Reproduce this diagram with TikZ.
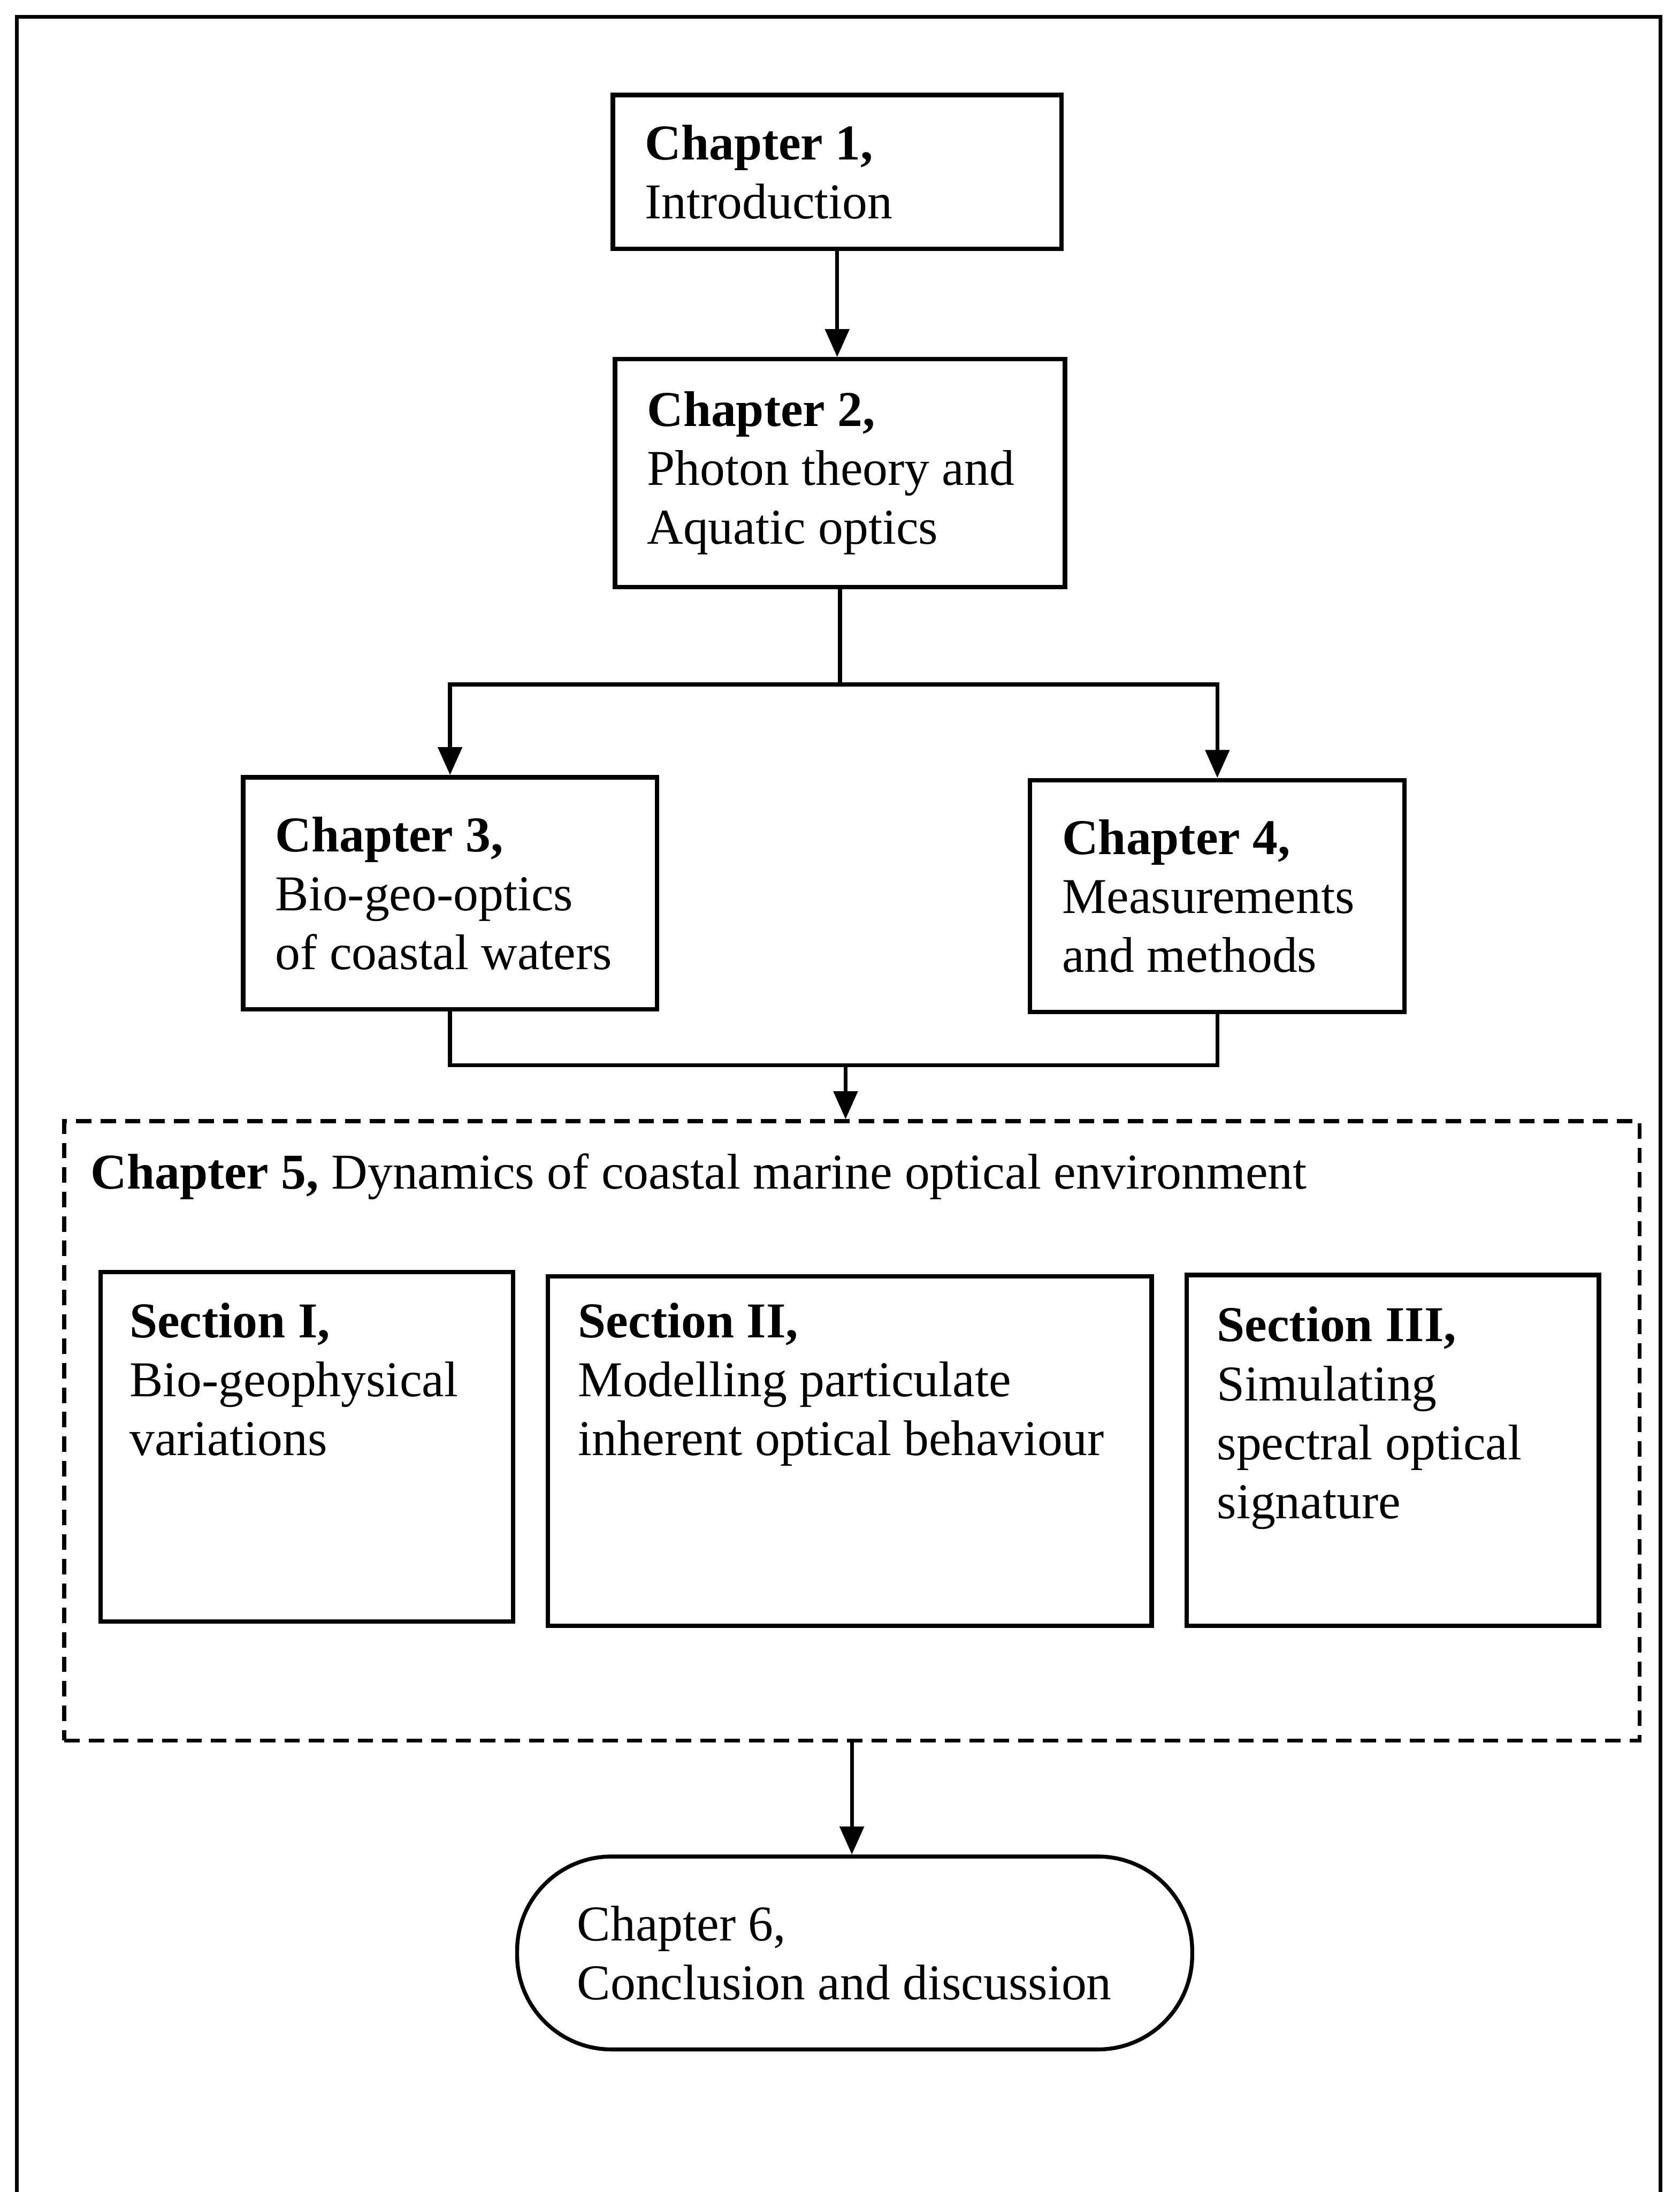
\documentclass[tikz,border=0pt]{standalone}
\usepackage{fontspec}
\setmainfont{Liberation Serif}
\usetikzlibrary{arrows.meta,positioning}
\tikzstyle{chapbox} = [rectangle,draw=black,line width=1.8pt,align=flush left,inner xsep=0.46cm,font=\fontsize{20.4pt}{24pt}\selectfont]
\tikzstyle{secbox} = [rectangle,draw=black,line width=1.8pt,minimum width=5.9cm,minimum height=5cm]
\tikzstyle{sectext} = [align=left,anchor=north west,inner sep=0pt,font=\fontsize{20.4pt}{24pt}\selectfont]
\tikzstyle{dashbox} = [rectangle,draw=black,line width=1.6pt,dash pattern=on 0.22cm off 0.13cm,minimum width=22.54cm,minimum height=8.86cm]
\tikzstyle{endbox} = [rectangle,rounded corners=1.35cm,draw=black,line width=1.6pt,align=flush left,inner xsep=0.86cm,minimum height=2.76cm,font=\fontsize{20.4pt}{24pt}\selectfont]
\tikzstyle{arrow} = [line width=1.6pt,-{Triangle[length=0.4cm,width=0.34cm]}]
\tikzstyle{link} = [line width=1.6pt]

\begin{document}
\begin{tikzpicture}
\useasboundingbox (0,0) rectangle (24.04,-31.36);
% outer frame, open at the bottom
\draw [line width=1.6pt] (0.24,-31.36) -- (0.24,-0.24) -- (23.76,-0.24) -- (23.76,-31.36);

\node (ch1) [chapbox,text width=5.5cm,minimum height=2.2cm] at (11.98,-2.46) {\textbf{Chapter 1,}\\Introduction};
\node (ch2) [chapbox,text width=5.52cm,minimum height=3.26cm] at (12.02,-6.77) {\textbf{Chapter 2,}\\Photon theory and\\Aquatic optics};
\node (ch3) [chapbox,text width=5.0cm,minimum height=3.32cm] at (6.44,-12.78) {\textbf{Chapter 3,}\\Bio-geo-optics\\of coastal waters};
\node (ch4) [chapbox,text width=4.44cm,minimum height=3.32cm] at (17.42,-12.82) {\textbf{Chapter 4,}\\Measurements\\and methods};

\node (ch5) [dashbox] at (12.19,-20.47) {};
\node (ch5t) [anchor=west,inner sep=0pt,font=\fontsize{20.4pt}{24pt}\selectfont] at ([shift={(0.4,-0.82)}]ch5.north west) {\textbf{Chapter 5,} Dynamics of coastal marine optical environment};

\node (sec1) [secbox] at (4.39,-20.70) {};
\node (sec2) [secbox,minimum width=8.64cm] at (12.16,-20.76) {};
\node (sec3) [secbox,minimum height=5.02cm] at (19.93,-20.75) {};
\node (sec1t) [sectext] at ([shift={(0.44,-0.46)}]sec1.north west) {\textbf{Section I,}\\Bio-geophysical\\variations};
\node (sec2t) [sectext] at ([shift={(0.46,-0.40)}]sec2.north west) {\textbf{Section II,}\\Modelling particulate\\inherent optical behaviour};
\node (sec3t) [sectext] at ([shift={(0.46,-0.48)}]sec3.north west) {\textbf{Section III,}\\Simulating\\spectral optical\\signature};

\node (ch6) [endbox,text width=7.94cm] at (12.23,-27.94) {Chapter 6,\\Conclusion and discussion};

\coordinate (fork) at ([yshift=-1.36cm]ch2.south);
\coordinate (merge) at (12.1,-15.24);

\draw [arrow] (ch1.south) -- (ch1.south |- ch2.north);
\draw [link] (ch2.south) -- (fork);
\draw [arrow] (fork) -| (ch3.north);
\draw [arrow] (fork) -| (ch4.north);
\draw [link] (ch3.south) |- (merge) -| (ch4.south);
\draw [arrow] (merge) -- (merge |- ch5.north);
\draw [arrow] (ch5.south) -- (ch5.south |- ch6.north);
\end{tikzpicture}
\end{document}
